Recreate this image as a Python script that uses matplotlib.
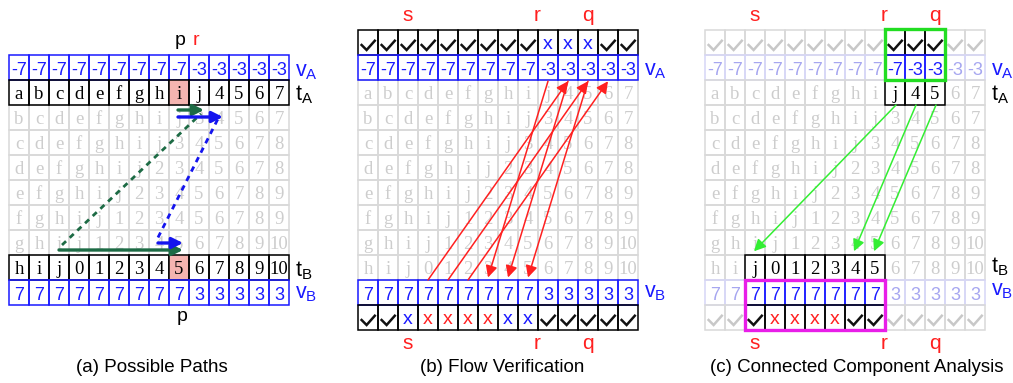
import matplotlib
matplotlib.use("Agg")
import matplotlib.pyplot as plt
from matplotlib.patches import Rectangle

plt.rcParams['font.family'] = ['Liberation Sans', 'DejaVu Sans']
plt.rcParams['mathtext.default'] = 'regular'

# ---- data ----
t_rows = [
    ["a", "b", "c", "d", "e", "f", "g", "h", "i", "j", "4", "5", "6", "7"],
    ["b", "c", "d", "e", "f", "g", "h", "i", "j", "3", "4", "5", "6", "7"],
    ["c", "d", "e", "f", "g", "h", "i", "j", "3", "4", "5", "6", "7", "8"],
    ["d", "e", "f", "g", "h", "i", "j", "2", "3", "4", "5", "6", "7", "8"],
    ["e", "f", "g", "h", "i", "j", "2", "3", "4", "5", "6", "7", "8", "9"],
    ["f", "g", "h", "i", "j", "1", "2", "3", "4", "5", "6", "7", "8", "9"],
    ["g", "h", "i", "j", "1", "2", "3", "4", "5", "6", "7", "8", "9", "10"],
    ["h", "i", "j", "0", "1", "2", "3", "4", "5", "6", "7", "8", "9", "10"],
]
v_a = ["-7", "-7", "-7", "-7", "-7", "-7", "-7", "-7", "-7", "-3", "-3", "-3", "-3", "-3"]
v_a_c = ["-7", "-7", "-7", "-7", "-7", "-7", "-7", "-7", "-7", "-7", "-3", "-3", "-3", "-3"]
v_b = ["7", "7", "7", "7", "7", "7", "7", "7", "7", "3", "3", "3", "3", "3"]
# v = tick, b = blue x, r = red x
check_top_b = list("vvvvvvvvvbbbvv")
check_bot_b = list("vvbrrrrbbvvvvv")
check_top_c = list("vvvvvvvvvvvvvv")
check_bot_c = list("vvvrrrrvvvvvvv")
pink_col = 8
flow_up = [(3, 10), (4, 11), (5, 12)]
flow_down = [(9, 6), (10, 7), (11, 8)]
comp_arrows = [(9, 2), (10, 7), (11, 8)]
comp_top = (9, 11)
comp_bot = (2, 8)
# panel (a) paths, (col, row) grid units
solid_paths = [((8.45, 1.2), (9.75, 1.2), "#1d6b45"), ((8.45, 1.48), (10.7, 1.48), "#1414ee"),
               ((2.5, 6.8), (8.7, 6.8), "#1d6b45"), ((7.45, 6.52), (8.7, 6.52), "#1414ee")]
dotted_paths = [((2.65, 6.6), (9.6, 1.35), "#1d6b45"), ((7.45, 6.3), (10.45, 1.55), "#1414ee")]
captions = ["(a) Possible Paths", "(b) Flow Verification", "(c) Connected Component Analysis"]

BLUE = "#1a1aff"
RED = "#ff2020"
GRAY_T = "#cdcdcd"
GRAY_E = "#d9d9d9"

fig = plt.figure(figsize=(10.13, 3.83), dpi=100)
ax = fig.add_axes([0, 0, 1, 1])
ax.set_xlim(0, 1013 / 20)
ax.set_ylim((383 - 80) / 25, -80 / 25)
ax.axis("off")


def tick(cx, cy, color):
    ax.plot([cx - 0.32, cx - 0.07, cx + 0.34], [cy + 0.1, cy + 0.3, cy - 0.07],
            color=color, lw=1.8, solid_joinstyle="miter", zorder=3)


def draw_row(x0, row, items, kind, on=None, pink=None):
    for col, item in enumerate(items):
        active = on is None or on[0] <= col <= on[1]
        if kind == "gray":
            active = False
        z = 2 if active else 1
        cx = x0 + col + 0.5
        if kind == "v":
            edge = BLUE if active else "#d6d6f6"
        elif kind in ("t", "c"):
            edge = "black" if active else GRAY_E
        else:
            edge = GRAY_E
        face = "#f4b4b0" if pink == col else "none"
        ax.add_patch(Rectangle((x0 + col, row), 1, 1, facecolor=face, edgecolor=edge, lw=1.1, zorder=z))
        if kind == "v":
            ax.text(cx, row + 0.78, item, ha="center", va="baseline", fontsize=13,
                    color=BLUE if active else "#a6a6f0", zorder=3)
        elif kind in ("t", "gray"):
            ax.text(cx, row + 0.76, item, ha="center", va="baseline", fontsize=13.5,
                    family="Liberation Serif", color="black" if active else GRAY_T, zorder=3)
        else:
            if item == "v":
                tick(cx, row + 0.5, "#111111" if active else "#c8c8c8")
            else:
                ax.text(cx, row + 0.74, "x", ha="center", va="baseline", fontsize=14,
                        color=BLUE if item == "b" else RED, zorder=3)


def side_labels(x0, rows):
    for row, lab, color in rows:
        ax.text(x0 + 14.3, row, lab, ha="left", va="baseline", fontsize=15.5, color=color)


def arrow(p0, p1, color, lw, scale):
    ax.annotate("", xy=p1, xytext=p0,
                arrowprops=dict(arrowstyle="-|>,head_length=0.5,head_width=0.25", color=color,
                                lw=lw, mutation_scale=scale, shrinkA=0, shrinkB=0), zorder=4)


# ---- panel (a) ----
xa = 0.45
draw_row(xa, -1, v_a, "v")
draw_row(xa, 0, t_rows[0], "t", pink=pink_col)
for r in range(1, 7):
    draw_row(xa, r, t_rows[r], "gray")
draw_row(xa, 7, t_rows[7], "t", pink=pink_col)
draw_row(xa, 8, v_b, "v")
side_labels(xa, [(-0.15, "$v_A$", BLUE), (0.82, "$t_A$", "black"),
                 (7.85, "$t_B$", "black"), (8.75, "$v_B$", BLUE)])
ax.text(xa + 8.55, -1.6, "p", ha="center", va="center", fontsize=14, color="black")
ax.text(xa + 9.35, -1.6, "r", ha="center", va="center", fontsize=14, color=RED)
ax.text(xa + 8.65, 9.45, "p", ha="center", va="center", fontsize=14, color="black")
for p0, p1, c in dotted_paths:
    ax.plot([xa + p0[0], xa + p1[0]], [p0[1], p1[1]], color=c, lw=2.0,
            linestyle=(0, (2.0, 1.8)), zorder=4)
for p0, p1, c in solid_paths:
    arrow((xa + p0[0], p0[1]), (xa + p1[0], p1[1]), c, 2.4, 13)

# ---- panel (b) ----
xb = 17.9
draw_row(xb, -2, check_top_b, "c")
draw_row(xb, -1, v_a, "v")
for r in range(8):
    draw_row(xb, r, t_rows[r], "gray")
draw_row(xb, 8, v_b, "v")
draw_row(xb, 9, check_bot_b, "c")
side_labels(xb, [(-0.2, "$v_A$", BLUE), (8.7, "$v_B$", BLUE)])
for a, b in flow_up:
    arrow((xb + a + 0.5, 8.0), (xb + b + 0.5, 0.05), RED, 1.1, 14)
for a, b in flow_down:
    arrow((xb + a + 0.5, 0.05), (xb + b + 0.5, 7.9), RED, 1.1, 14)

# ---- panel (c) ----
xc = 35.25
draw_row(xc, -2, check_top_c, "c", on=comp_top)
draw_row(xc, -1, v_a_c, "v", on=comp_top)
draw_row(xc, 0, t_rows[0], "t", on=comp_top)
for r in range(1, 7):
    draw_row(xc, r, t_rows[r], "gray")
draw_row(xc, 7, t_rows[7], "t", on=comp_bot)
draw_row(xc, 8, v_b, "v", on=comp_bot)
draw_row(xc, 9, check_bot_c, "c", on=comp_bot)
ax.add_patch(Rectangle((xc + comp_top[0], -2.06), comp_top[1] - comp_top[0] + 1, 2.06,
                       facecolor="none", edgecolor="#22dd22", lw=2.4, zorder=5))
ax.add_patch(Rectangle((xc + comp_bot[0], 8), comp_bot[1] - comp_bot[0] + 1, 2,
                       facecolor="none", edgecolor="#e81ee8", lw=2.4, zorder=5))
side_labels(xc, [(-0.2, "$v_A$", BLUE), (0.82, "$t_A$", "black"),
                 (7.7, "$t_B$", "black"), (8.6, "$v_B$", BLUE)])
for a, b in comp_arrows:
    arrow((xc + a + 0.55, 1.0), (xc + b + 0.45, 6.85), "#33ee33", 1.1, 14)

# s / r / q labels for (b) and (c)
for x0 in (xb, xc):
    for lab, col in (("s", 2.5), ("r", 8.95), ("q", 11.5)):
        ax.text(x0 + col, -2.6, lab, ha="center", va="center", fontsize=15, color=RED)
        ax.text(x0 + col, 10.55, lab, ha="center", va="center", fontsize=15, color=RED)

for x0, cx, cap in zip((xa, xb, xc), (7.15, 7.2, 7.6), captions):
    ax.text(x0 + cx, 11.48, cap, ha="center", va="center", fontsize=13.5, color="black")

fig.savefig("out.png", dpi=100)
